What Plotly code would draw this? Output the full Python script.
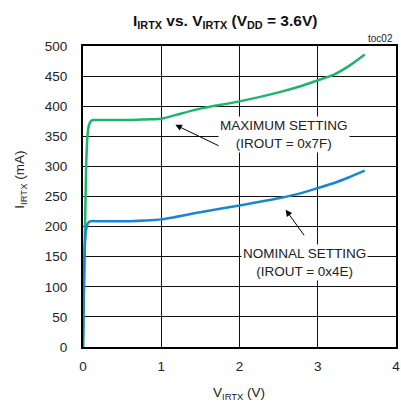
import plotly.graph_objects as go

# Data
v_max = [0, 0.02, 0.04, 0.06, 0.08, 0.1, 0.13, 0.2, 0.4, 0.6, 0.8, 1.0, 1.2, 1.5, 2.0, 2.5, 2.8, 3.0, 3.2, 3.4, 3.6]
i_max = [0, 150, 300, 355, 370, 375, 377, 377, 377, 377, 378, 379, 386, 396, 408, 423, 434, 443, 452, 467, 486]
v_nom = [0, 0.01, 0.02, 0.04, 0.06, 0.08, 0.1, 0.2, 0.4, 0.6, 0.8, 1.0, 1.5, 2.0, 2.5, 2.8, 3.0, 3.2, 3.4, 3.6]
i_nom = [0, 90, 160, 195, 205, 208, 209, 209, 209, 209, 210, 212, 224, 235, 247, 256, 264, 272, 282, 293]

x_ticks = [0, 1, 2, 3, 4]
y_ticks = [0, 50, 100, 150, 200, 250, 300, 350, 400, 450, 500]

font = "Liberation Sans, Arial, sans-serif"
narrow = "Liberation Sans Narrow, Arial Narrow, Liberation Sans, Arial, sans-serif"

fig = go.Figure()
fig.add_trace(go.Scatter(x=v_max, y=i_max, mode="lines",
                         line=dict(color="#1db46b", width=2.5, shape="spline", smoothing=0.6)))
fig.add_trace(go.Scatter(x=v_nom, y=i_nom, mode="lines",
                         line=dict(color="#1a86d0", width=2.5, shape="spline", smoothing=0.6)))

annos = [
    dict(x=1.18, y=369, ax=1.77, ay=332, xref="x", yref="y", axref="x", ayref="y",
         text="", showarrow=True, arrowhead=2, arrowsize=1.3, arrowwidth=1, arrowcolor="black"),
    dict(x=2.59, y=228, ax=2.84, ay=183, xref="x", yref="y", axref="x", ayref="y",
         text="", showarrow=True, arrowhead=2, arrowsize=1.3, arrowwidth=1, arrowcolor="black"),
    dict(x=2.57, y=353, xref="x", yref="y", showarrow=False,
         text="MAXIMUM SETTING<br>(IROUT = 0x7F)", bgcolor="white",
         font=dict(family=font, size=13.5, color="#222")),
    dict(x=2.83, y=141, xref="x", yref="y", showarrow=False,
         text="NOMINAL SETTING<br>(IROUT = 0x4E)", bgcolor="white",
         font=dict(family=font, size=13.5, color="#222")),
    dict(x=1, y=1, xref="paper", yref="paper", xanchor="right", yanchor="bottom",
         text="toc02", showarrow=False, font=dict(family=font, size=10, color="#222"),
         xshift=-1, yshift=0),
    dict(x=0.453, y=1, xref="paper", yref="paper", xanchor="center", yanchor="bottom",
         text="<b>I<sub>IRTX</sub> vs. V<sub>IRTX</sub> (V<sub>DD</sub> = 3.6V)</b>",
         showarrow=False, font=dict(family=narrow, size=15.5, color="#111"), yshift=13),
    dict(x=0.497, y=-0.153, xref="paper", yref="paper", xanchor="center", yanchor="middle",
         text="V<sub>IRTX</sub> (V)", showarrow=False,
         font=dict(family=font, size=13.5, color="#222")),
    dict(x=-0.199, y=0.555, xref="paper", yref="paper", xanchor="center", yanchor="middle",
         text="I<sub>IRTX</sub> (mA)", showarrow=False, textangle=-90,
         font=dict(family=font, size=13.5, color="#222")),
]

fig.update_layout(
    width=401, height=402,
    margin=dict(l=83, r=1, t=46, b=55),
    paper_bgcolor="white", plot_bgcolor="white",
    showlegend=False,
    annotations=annos,
    font=dict(family=font, size=13.5, color="#222"),
)
fig.update_xaxes(range=[0, 4], tickvals=x_ticks, showgrid=True, gridcolor="#111", gridwidth=1,
                 showline=True, linecolor="black", linewidth=2, mirror=True, zeroline=False,
                 ticks="outside", ticklen=6, tickcolor="white", ticklabeloverflow="allow")
fig.update_yaxes(range=[0, 500], tickvals=y_ticks, showgrid=True, gridcolor="#111", gridwidth=1,
                 showline=True, linecolor="black", linewidth=2, mirror=True, zeroline=False,
                 ticks="outside", ticklen=11, tickcolor="white")

fig.write_html(
    "out.html",
    config={"displayModeBar": False},
    post_script="document.documentElement.style.overflow='hidden';"
                "document.body.style.margin='0';document.body.style.overflow='hidden';",
)
